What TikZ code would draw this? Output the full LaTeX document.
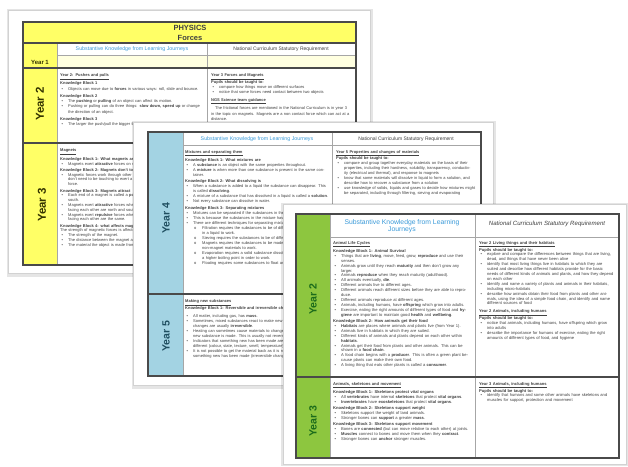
\documentclass[tikz,border=0pt]{standalone}
\usepackage{fontspec}
\setmainfont{Liberation Sans}
\definecolor{physyellow}{HTML}{FFFF66}
\definecolor{paleyellow}{HTML}{FFFFE0}
\definecolor{chemblue}{HTML}{A3D3E3}
\definecolor{biogreen}{HTML}{8DC63F}
\definecolor{headblue}{HTML}{3A9AD9}
\definecolor{bodygrey}{HTML}{404040}
\definecolor{tablegrey}{HTML}{4A4A4A}
\definecolor{yrdark}{HTML}{333300}
\definecolor{yrteal}{HTML}{1F4E60}
\definecolor{yrgreen}{HTML}{1B6B1B}

% small helpers for the tiny table text
\newcommand{\topic}[1]{\underline{\textbf{#1}}\par}
\newcommand{\kblock}[1]{\par\vspace{1.5pt}\textbf{#1}\par}
\newcommand{\bul}[1]{\par\hangindent=8pt\hangafter=1\noindent\makebox[8pt][l]{\hspace{1.5pt}\textbullet}#1\par}
\newcommand{\subbul}[1]{\par\hangindent=17pt\hangafter=1\noindent\makebox[17pt][l]{\hspace{9pt}o}#1\par}

\begin{document}
\begin{tikzpicture}[
  x=1pt, y=-1pt,
  page/.style={fill=white, draw=gray!35, line width=0.5pt},
  pageshade/.style={fill=black, opacity=0.10, draw=none},
  thinln/.style={draw=gray!70, line width=0.6pt},
  thickln/.style={draw=tablegrey, line width=1.2pt},
  yearlbl/.style={rotate=90, font=\bfseries\fontsize{10.5}{11}\selectfont},
  hdrblue/.style={text=headblue, font=\fontsize{5.3}{6}\selectfont},
  hdrgrey/.style={text=bodygrey, font=\fontsize{5}{6}\selectfont},
  bodytxt/.style={anchor=north west, inner sep=0pt, align=left, text=bodygrey, font=\fontsize{4}{5}\selectfont}
]
\useasboundingbox (0,0) rectangle (628,466);
\fill[white] (0,0) rectangle (628,466);

% ---------- Page 1: Physics ----------
\fill[pageshade] (6.5,9) rectangle (372.5,277);
\draw[page] (8,10) rectangle (370,273);
\fill[physyellow] (23,22) rectangle (356,43);
\fill[physyellow] (23,43) rectangle (57,265);
\fill[paleyellow] (57,55) rectangle (356,68);
\draw[thinln] (57,55) -- (356,55);
\draw[thinln] (207,43) -- (207,265);
\draw[thinln] (57,43) -- (57,265);
\draw[thickln] (23,43) -- (356,43);
\draw[thickln] (23,68) -- (356,68);
\draw[thickln] (23,143) -- (356,143);
\draw[thickln] (23,22) rectangle (356,265);

\node[align=center, font=\bfseries\fontsize{7.5}{10.5}\selectfont, text=bodygrey] (p1title) at (190,33) {PHYSICS\\Forces};
\node[hdrblue] (p1hl) at (132,49) {Substantive Knowledge from Learning Journeys};
\node[hdrgrey] (p1hr) at (281,49) {National Curriculum Statutory Requirement};
\node[font=\bfseries\fontsize{6}{7}\selectfont, text=yrdark] (p1y1) at (40,62) {Year 1};
\node[yearlbl, font=\bfseries\fontsize{11.5}{12}\selectfont, text=yrdark] (p1y2) at (40,104) {Year 2};
\node[yearlbl, font=\bfseries\fontsize{11.5}{12}\selectfont, text=yrdark] (p1y3) at (42,205) {Year 3};

\node[bodytxt, text width=143pt, font=\fontsize{4}{5.4}\selectfont] (p1a) at (60,73.5) {%
\topic{Year 2: Pushes and pulls}
\kblock{Knowledge Block 1}
\bul{Objects can move due to \textbf{forces} in various ways: roll, slide and bounce.}
\kblock{Knowledge Block 2}
\bul{The \textbf{pushing} or \textbf{pulling} of an object can affect its motion.}
\bul{Pushing or pulling can do three things: \textbf{slow down, speed up} or change the direction of an object.}
\kblock{Knowledge Block 3}
\bul{The larger the push/pull the bigger the effect on the object.}};

\node[bodytxt, text width=140pt, font=\fontsize{4}{5.3}\selectfont] (p1b) at (211,73.5) {%
\topic{Year 3 Forces and Magnets}
\textbf{Pupils should be taught to:}\par
\bul{compare how things move on different surfaces}
\bul{notice that some forces need contact between two objects}
\vspace{2pt}\topic{NGS Science team guidance}
\vspace{2pt}\hspace{4pt}The frictional forces are mentioned in the National Curriculum is in year 3 in the topic on magnets. Magnets are a non contact force which can act at a distance.};

% runs on under page 2
\node[bodytxt, text width=100pt, font=\fontsize{4}{4.8}\selectfont] (p1c) at (60,149) {%
\topic{Magnets}
\kblock{Knowledge Block 1: What magnets are}
\bul{Magnets exert \textbf{attractive} forces on magnets.}
\kblock{Knowledge Block 2: Magnets don't touch}
\bul{Magnetic forces work through other materials; don't need to be touching to exert a \textbf{non-contact} force.}
\kblock{Knowledge Block 3: Magnets attract}
\bul{Each end of a magnet is called a \textbf{pole}: north and south.}
\bul{Magnets exert \textbf{attractive} forces when the poles facing each other are north and south.}
\bul{Magnets exert \textbf{repulsive} forces when the poles facing each other are the same.}
\kblock{Knowledge Block 4: what affects magnets}
The strength of magnetic forces is affected by:\par
\bul{The strength of the magnet.}
\bul{The distance between the magnet and object.}
\bul{The material the object is made from.}};

% ---------- Page 2: Chemistry ----------
\fill[pageshade] (131.5,121) rectangle (495.5,389);
\draw[page] (133,122) rectangle (493,385);
\fill[chemblue] (148,132) rectangle (183,376);
\draw[thinln] (183,145) -- (481,145);
\draw[thinln] (332,132) -- (332,376);
\draw[thinln] (183,132) -- (183,376);
\draw[thickln] (148,294) -- (481,294);
\draw[thickln] (148,132) rectangle (481,376);

\node[hdrblue] (p2hl) at (257,139) {Substantive Knowledge from Learning Journeys};
\node[hdrgrey] (p2hr) at (406,139) {National Curriculum Statutory Requirement};
\node[yearlbl, text=yrteal] (p2y4) at (166,218) {Year 4};
\node[yearlbl, text=yrteal] (p2y5) at (166,336) {Year 5};

\node[bodytxt, text width=143pt] (p2a) at (185,150) {%
\topic{Mixtures and separating them}
\kblock{Knowledge Block 1: What mixtures are}
\bul{A \textbf{substance} is an object with the same properties throughout.}
\bul{A \textbf{mixture} is when more than one substance is present in the same container.}
\kblock{Knowledge Block 2: What dissolving is}
\bul{When a substance is added to a liquid the substance can disappear. This is called \textbf{dissolving}.}
\bul{A mixture of a substance that has dissolved in a liquid is called a \textbf{solution}.}
\bul{Not every substance can dissolve in water.}
\kblock{Knowledge Block 3: Separating mixtures}
\bul{Mixtures can be separated if the substances in them keep their properties.}
\bul{This is because the substances in the mixture haven't changed.}
\bul{There are different techniques for separating mixtures:}
\subbul{Filtration requires the substances to be of different states, e.g. a solid in a liquid to work.}
\subbul{Sieving requires the substances to be of different sizes.}
\subbul{Magnets requires the substances to be made of magnetic and some non-magnet materials to work.}
\subbul{Evaporation requires a solid substance dissolved in a liquid which has a higher boiling point in order to work.}
\subbul{Floating requires some substances to float and some to sink to work.}};

\node[bodytxt, text width=140pt] (p2b) at (336,150) {%
\topic{Year 5 Properties and changes of materials}
\textbf{Pupils should be taught to:}\par
\bul{compare and group together everyday materials on the basis of their properties, including their hardness, solubility, transparency, conductivity (electrical and thermal), and response to magnets}
\bul{know that some materials will dissolve in liquid to form a solution, and describe how to recover a substance from a solution}
\bul{use knowledge of solids, liquids and gases to decide how mixtures might be separated, including through filtering, sieving and evaporating}};

\node[bodytxt, text width=143pt] (p2c) at (185,299.5) {%
\topic{Making new substances}
\textbf{Knowledge Block 1: Reversible and irreversible changes}\par\vspace{3pt}
\bul{All matter, including gas, has \textbf{mass}.}
\bul{Sometimes, mixed substances react to make new substances; these changes are usually \textbf{irreversible}.}
\bul{Heating can sometimes cause materials to change. When this happens, a new substance is made. This is usually not reversible.}
\bul{Indicators that something new has been made are that the materials are different (colour, state, texture, smell, temperature).}
\bul{It is not possible to get the material back as it is not there anymore and something new has been made (irreversible change).}};

% ---------- Page 3: Biology ----------
\fill[pageshade] (280.5,202.5) rectangle (628,466);
\draw[page] (283,204) rectangle (626,464);
\fill[biogreen] (296,214) rectangle (330,458);
\draw[thinln] (330,237) -- (619,237);
\draw[thinln] (475,214) -- (475,458);
\draw[thinln] (330,214) -- (330,458);
\draw[thickln, line width=1.5pt] (296,377) -- (619,377);
\draw[thickln, line width=1.5pt] (296,214) rectangle (619,458);

\node[align=center, text=headblue, font=\fontsize{6.8}{7.4}\selectfont] (p3hl) at (402,226.5) {Substantive Knowledge from Learning\\Journeys};
\node[text=bodygrey, font=\itshape\fontsize{6.1}{7}\selectfont] (p3hr) at (547,223.5) {National Curriculum Statutory Requirement};
\node[yearlbl, text=yrgreen] (p3y2) at (313,299) {Year 2};
\node[yearlbl, text=yrgreen] (p3y3) at (313,421) {Year 3};

\node[bodytxt, text width=138pt, font=\fontsize{4.1}{4.9}\selectfont] (p3a) at (333,241) {%
\topic{Animal Life Cycles}
\kblock{Knowledge Block 1: Animal Survival}
\bul{Things that are \textbf{living}, move, feed, grow, \textbf{reproduce} and use their senses.}
\bul{Animals grow until they reach \textbf{maturity} and then don't grow any larger.}
\bul{Animals \textbf{reproduce} when they reach maturity (adulthood).}
\bul{All animals eventually, \textbf{die}.}
\bul{Different animals live to different ages.}
\bul{Different animals reach different sizes before they are able to reproduce.}
\bul{Different animals reproduce at different ages.}
\bul{Animals, including humans, have \textbf{offspring} which grow into adults.}
\bul{Exercise, eating the right amounts of different types of food and \textbf{hygiene} are important to maintain good \textbf{health} and \textbf{wellbeing}.}
\kblock{Knowledge Block 2: How animals get their food}
\bul{\textbf{Habitats} are places where animals and plants live (from Year 1).}
\bul{Animals live in habitats in which they are suited.}
\bul{Different kinds of animals and plants depend on each other within \textbf{habitats}.}
\bul{Animals get their food from plants and other animals. This can be shown in a \textbf{food chain}.}
\bul{A food chain begins with a \textbf{producer}. This is often a green plant because plants can make their own food.}
\bul{A living thing that eats other plants is called a \textbf{consumer}.}};

\node[bodytxt, text width=135pt, font=\fontsize{4.1}{4.9}\selectfont] (p3b) at (479,241) {%
\topic{Year 2 Living things and their habitats}
\textbf{Pupils should be taught to:}\par
\bul{explore and compare the differences between things that are living, dead, and things that have never been alive}
\bul{identify that most living things live in habitats to which they are suited and describe how different habitats provide for the basic needs of different kinds of animals and plants, and how they depend on each other}
\bul{identify and name a variety of plants and animals in their habitats, including micro-habitats}
\bul{describe how animals obtain their food from plants and other animals, using the idea of a simple food chain, and identify and name different sources of food}
\vspace{3pt}\topic{Year 2 Animals, including humans}
\textbf{Pupils should be taught to:}\par
\bul{notice that animals, including humans, have offspring which grow into adults}
\bul{describe the importance for humans of exercise, eating the right amounts of different types of food, and hygiene}};

\node[bodytxt, text width=138pt, font=\fontsize{4.1}{4.9}\selectfont] (p3c) at (333,382) {%
\topic{Animals, skeletons and movement}
\kblock{Knowledge Block 1: Skeletons protect vital organs}
\bul{All \textbf{vertebrates} have internal \textbf{skeletons} that protect \textbf{vital organs}.}
\bul{\textbf{Invertebrates} have \textbf{exoskeletons} that protect \textbf{vital organs}.}
\kblock{Knowledge Block 2: Skeletons support weight}
\bul{Skeletons support the weight of land animals.}
\bul{Stronger bones can \textbf{support} a greater \textbf{mass}.}
\kblock{Knowledge Block 3: Skeletons support movement}
\bul{Bones are \textbf{connected} (but can move relative to each other) at joints.}
\bul{\textbf{Muscles} connect to bones and move them when they \textbf{contract}.}
\bul{Stronger bones can \textbf{anchor} stronger muscles.}};

\node[bodytxt, text width=135pt, font=\fontsize{4.1}{4.9}\selectfont] (p3d) at (479,382) {%
\topic{Year 3 Animals, including humans}
\textbf{Pupils should be taught to:}\par
\bul{identify that humans and some other animals have skeletons and muscles for support, protection and movement}};

\end{tikzpicture}
\end{document}
